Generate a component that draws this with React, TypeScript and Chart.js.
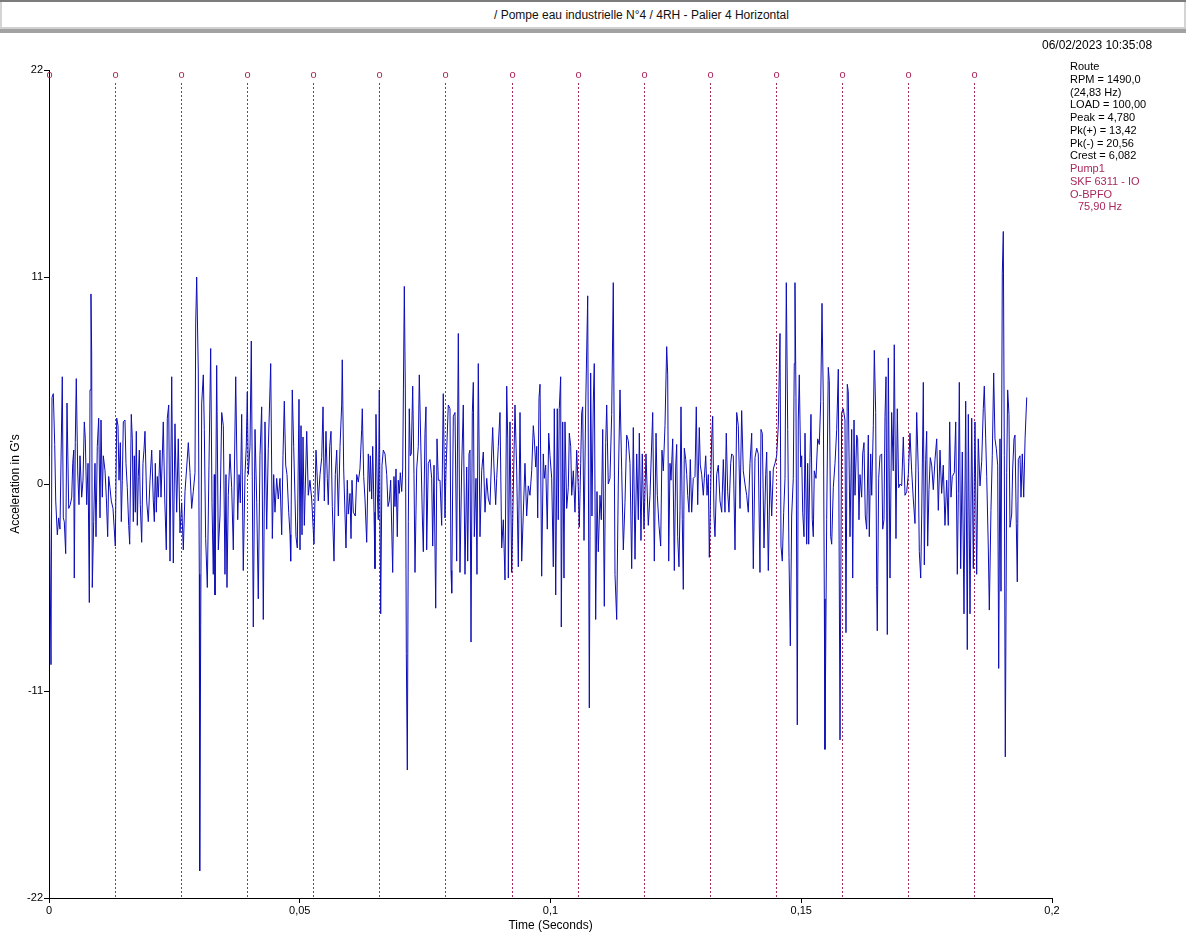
import React, { useEffect, useRef } from "react";
import Chart from "chart.js/auto";

// ---------- data ----------
const chartTitle = "/ Pompe eau industrielle N°4 / 4RH - Palier 4 Horizontal";
const timestamp = "06/02/2023 10:35:08";
const infoLines = [
  "Route",
  "RPM = 1490,0",
  "(24,83 Hz)",
  "LOAD = 100,00",
  "Peak = 4,780",
  "Pk(+) = 13,42",
  "Pk(-) = 20,56",
  "Crest = 6,082",
];
const faultLines = ["Pump1", "SKF 6311 - IO", "O-BPFO"];
const faultFrequencyLabel = "75,90 Hz";

const xTickValues = [0, 0.05, 0.1, 0.15, 0.2];
const yTickValues = [-22, -11, 0, 11, 22];
const xAxisTitle = "Time (Seconds)";
const yAxisTitle = "Acceleration in G's";

// BPFO (75,90 Hz) period markers, in seconds
const bpfoMarkerTimes = [
  0, 0.013175, 0.02635, 0.039526, 0.052701, 0.065876, 0.079051, 0.092227,
  0.105402, 0.118577, 0.131752, 0.144928, 0.158103, 0.171278, 0.184453,
];

// waveform: time (ms) and acceleration (G's)
const timeMs = [
  0.00, 0.40, 0.60, 0.86, 1.14, 1.34, 1.66, 1.93, 2.19, 2.65, 2.85, 3.05, 3.33, 3.59, 3.93, 4.25, 4.53, 4.73, 4.93, 5.04,
  5.24, 5.44, 5.72, 5.98, 6.18, 6.52, 6.78, 7.04, 7.24, 7.52, 7.78, 8.04, 8.18, 8.37, 8.51, 8.63, 8.91, 9.17, 9.37, 9.63,
  9.91, 10.17, 10.37, 10.63, 10.83, 11.17, 11.43, 11.70, 11.90, 12.16, 12.42, 12.76, 13.22, 13.50, 13.76, 13.96, 14.22, 14.42, 14.62, 14.82,
  15.15, 15.35, 15.61, 15.89, 16.09, 16.41, 16.61, 16.81, 17.01, 17.21, 17.41, 17.61, 17.81, 18.01, 18.21, 18.48, 18.74, 18.94, 19.14, 19.48,
  19.80, 20.14, 20.48, 20.80, 21.00, 21.20, 21.40, 21.60, 21.79, 22.13, 22.33, 22.53, 22.79, 23.07, 23.39, 23.59, 23.87,
  24.13, 24.47, 24.79, 25.12, 25.46, 25.78, 26.12, 26.46, 26.78, 27.12, 27.46, 27.78, 28.12, 28.45, 28.77, 29.11, 29.25, 29.45, 29.77, 29.97,
  30.05, 30.25, 30.45, 30.77, 30.97, 31.24, 31.57, 31.90, 32.24, 32.50, 32.76, 32.96, 33.10, 33.44, 33.76, 34.10, 34.44, 34.76, 35.09, 35.29,
  35.49, 35.75, 36.09, 36.43, 36.75, 37.23, 37.63, 37.89, 38.15, 38.42, 38.74, 39.08, 39.34, 39.54, 39.74, 40.08, 40.34, 40.74, 41.08, 41.42,
  41.73, 42.07, 42.41, 42.73, 43.07, 43.41, 43.73, 44.21, 44.53, 44.80, 45.06, 45.40, 45.72, 46.06, 46.40, 46.66, 46.92, 47.20, 47.46, 47.80,
  48.06, 48.19, 48.51, 48.79,
  49.25, 49.51, 49.85, 50.05, 50.25, 50.45, 50.65, 50.91, 51.39, 51.70, 52.04, 52.38, 52.84, 53.24, 53.70, 54.04, 54.38, 54.64, 54.90, 55.23,
  55.49, 55.69, 55.97, 56.23, 56.49, 56.83, 57.09, 57.37, 57.69, 58.03, 58.36, 58.48, 58.76, 59.22, 59.48, 59.68, 60.02, 60.22, 60.42, 60.68,
  61.08, 61.36, 61.67, 62.01, 62.35, 62.47, 62.75, 63.01, 63.35, 63.67, 63.95, 64.07, 64.35, 64.55, 64.81, 65.00, 65.20, 65.46, 65.66, 65.86,
  66.14, 66.40, 66.66, 67.00, 67.34, 67.60, 67.86, 68.13, 68.53, 68.79, 68.99, 69.19, 69.45, 69.65, 69.85, 70.05, 70.33, 70.53, 70.85, 71.05,
  71.25, 71.45, 71.65, 71.84, 72.04, 72.24, 72.52, 72.78, 72.98, 73.32, 73.64, 73.84,
  74.44, 74.64, 74.97, 75.17, 75.31, 75.63, 75.97, 76.31, 76.51, 76.77, 77.11, 77.37, 77.63, 77.97, 78.30, 78.62, 78.96, 79.16, 79.62, 79.96,
  80.16, 80.30, 80.62, 80.96, 81.29, 81.62, 81.95, 82.29, 82.61, 82.95, 83.29, 83.49, 83.75, 83.95, 84.15, 84.41, 84.61, 84.81, 85.14, 85.34,
  85.60, 85.94, 86.28, 86.60, 86.94, 87.28, 87.60, 87.94, 88.27, 88.47, 88.73, 89.07, 89.27, 89.59, 89.93, 90.27, 90.59, 90.93, 91.27, 91.47,
  91.59, 91.92, 92.26, 92.92, 93.26, 93.58, 93.92, 94.26, 94.91, 95.25, 95.57, 95.91, 96.25, 96.57, 96.77, 97.05, 97.25, 97.45, 97.71, 97.91,
  98.24, 98.56,
  98.76, 99.04, 99.36, 99.64, 99.90, 100.24, 100.56, 100.76, 101.04, 101.35, 101.55, 101.75, 102.03, 102.15, 102.43, 102.69, 102.89, 103.23, 103.55, 103.75,
  104.03, 104.23, 104.55, 104.88, 105.22, 105.54, 105.74, 106.02, 106.22, 106.42, 106.68, 107.02, 107.42, 107.74, 108.01, 108.27, 108.53, 108.73, 109.01, 109.27,
  109.53, 109.87, 110.13, 110.41, 110.73, 111.01, 111.21, 111.52, 111.86, 112.20, 112.52, 112.86, 113.20, 113.52, 113.86, 114.20, 114.52, 114.85, 115.19, 115.51,
  115.85, 116.19, 116.51, 116.85, 117.19, 117.51, 117.71, 118.04, 118.30, 118.64, 119.04, 119.50, 119.84, 120.38, 120.70, 121.04, 121.30, 121.63, 121.97, 122.23,
  122.49, 122.83, 123.17, 123.37, 123.57,
  123.83, 124.03, 124.37, 124.69, 124.96, 125.16, 125.36, 125.62, 125.82, 126.02, 126.28, 126.48, 126.68, 126.96, 127.16, 127.36, 127.62, 127.88, 128.15, 128.47,
  128.81, 129.07, 129.35, 129.67, 129.87, 130.15, 130.47, 130.67, 130.95, 131.21, 131.47, 131.67, 132.14, 132.34, 132.60, 132.80, 133.14, 133.46, 133.80, 134.14,
  134.46, 134.79, 135.05, 135.33, 135.59, 135.93, 136.13, 136.45, 136.79, 137.13, 137.45, 137.79, 138.12, 138.44, 138.78, 139.12, 139.44, 139.78, 140.12, 140.44,
  140.78, 141.12, 141.43, 141.77, 141.97, 142.23, 142.57, 142.91, 143.11, 143.43, 143.77, 144.11, 144.43, 144.76, 145.10, 145.42, 145.76, 145.96, 146.22, 146.50,
  146.76, 147.02, 147.30, 147.56, 147.82, 148.09, 148.41, 148.61,
  148.75, 148.95, 149.21, 149.41, 149.61, 149.89, 150.09, 150.29, 150.55, 150.75, 151.09, 151.28, 151.48, 151.74, 151.94, 152.20, 152.40, 152.60, 152.94, 153.28,
  153.60, 153.88, 154.14, 154.40, 154.60, 154.73, 155.07, 155.39, 155.59, 155.87, 156.07, 156.39, 156.73, 157.07, 157.39, 157.73, 158.06, 158.38, 158.72, 158.92,
  159.18, 159.38, 159.72, 160.06, 160.26, 160.52, 160.72, 161.06, 161.25, 161.51, 161.71, 162.05, 162.25, 162.51, 162.77, 163.05, 163.37, 163.57, 163.85, 164.05,
  164.37, 164.57, 164.84, 165.04, 165.16, 165.44, 165.70, 166.04, 166.24, 166.50, 166.70, 166.90, 167.16, 167.36, 167.70, 168.03, 168.35, 168.55, 168.89, 169.15,
  169.43, 169.69, 170.03, 170.35, 170.69, 171.03, 171.35, 171.68, 172.02, 172.34, 172.68, 173.02, 173.34, 173.54,
  173.82, 174.02, 174.22, 174.34, 174.54, 174.81, 175.01, 175.21, 175.47, 175.73, 176.01, 176.33, 176.67, 177.01, 177.33, 177.67, 178.00, 178.32, 178.66, 179.00,
  179.32, 179.60, 179.86, 180.12, 180.52, 180.80, 181.12, 181.32, 181.52, 181.79, 182.11, 182.45, 182.79, 183.11, 183.31, 183.65, 183.99, 184.31, 184.64, 184.98,
  185.30, 185.64, 185.98, 186.30, 186.50, 186.78, 186.98, 187.30, 187.50, 187.83, 188.09, 188.37, 188.63, 188.89, 189.17, 189.37, 189.63, 189.83, 190.09, 190.29,
  190.49, 190.69, 190.97, 191.16, 191.42, 191.62, 191.96, 192.16, 192.42, 192.62, 192.88, 193.08, 193.28, 193.62, 193.82, 194.08, 194.36, 194.63, 194.96,
];

const acceleration = [
  1.5, -9.6, 4.6, 4.8, 2.1, -0.9, -2.7, -1.8, -2.4, 5.7, -1.8, -2.0, -3.7, 4.3, -1.3, -1.1, -0.7, 1.1, 1.8, -5.0,
  2.2, 5.6, 0.7, -1.1, 1.5, -0.7, 0.2, 3.3, 2.4, -1.1, 1.1, -6.3, 5.0, 10.1, 6.9, -5.5, -2.0, 1.1, -2.8, 2.0,
  3.5, -1.8, 3.4, -0.7, 1.5, 0.7, -0.7, -2.8, 0.4, -0.2, -0.9, -1.3, -3.3, 3.5, 3.1, 0.2, 2.2, -2.0, 0.2, 3.3,
  3.4, 1.1, -0.2, -2.2, -3.2, 3.7, 2.4, -2.0, 1.5, -1.5, 2.8, -2.2, 0.4, 1.8, -1.1, -3.1, 1.1, 1.8, 2.8, -0.9,
  -2.0, 0.2, 1.8, -0.9, -2.0, 1.1, -1.5, 0.4, -0.7, 1.8, -0.7, 0.9, 3.3, -0.7, -3.5, 3.5, 4.2,
  -4.1, 5.7, -4.2, 3.2, -1.5, 2.4, -2.6, -1.0, -3.5, -0.4, 0.9, 2.2, 0.6, -1.3, -0.4, 0.6, 8.5, 11.0, 6.0, -4.8,
  -20.56, -7.5, 4.3, 5.8, 2.9, -2.9, -5.5, 1.0, 7.2, -1.0, -4.8, 0.5, -5.9, 6.3, -3.5, -1.7, 3.8, 3.1, -4.8, 0.5,
  -5.5, -0.6, 1.6, -0.2, -3.5, 5.7, -1.9, 0.5, -1.0, 3.7, -4.6, 0.5, 2.0, 4.9, 0.5, 2.0, 7.6, -7.6, 2.9, -1.0,
  -6.1, 1.5, 4.1, -7.2, 3.3, -2.4, 1.9, 6.4, -2.9, 0.5, -1.5, 0.3, -0.8, 0.3, -2.7, 1.5, 4.4, 1.0, 0.5, -1.5,
  -2.7, -4.1, 5.0, 2.0,
  -2.8, -3.4, 4.5, -3.5, 3.1, -2.7, 2.5, -2.2, 2.8, -0.6, 0.2, -0.8, -3.2, 1.8, -0.9, 0.5, 1.4, 4.1, -0.9, 2.8,
  0.3, -1.1, 2.0, 2.8, -1.2, -4.1, 0.5, 1.8, -1.7, 2.0, 4.2, 6.6, 0.8, -3.4, 0.2, -1.6, -0.5, -2.9, 0.2, -1.5,
  -1.7, 0.5, 0.1, 0.8, 2.9, 4.0, 0.4, -0.8, -3.1, 1.6, -0.4, 1.5, -0.8, 2.0, -1.5, -4.5, 3.7, -0.5, -1.9, 5.0,
  -6.9, 1.0, 1.8, 1.6, 0.5, -1.2, -0.9, 0.2, -4.7, 0.4, -1.2, 0.8, -2.8, 0.2, -0.5, 0.6, -0.4, 0.8, 10.5, 5.0,
  -9.0, -15.2, -2.0, 4.0, 1.5, 1.6, 5.2, 0.5, -4.7, 0.8, 2.0, 5.8,
  -1.7, -3.6, 2.7, 4.1, -3.5, 1.1, 1.3, 0.3, -3.3, 1.0, -6.6, 2.4, 0.2, 0.2, -2.2, 4.8, -1.8, 0.7, 4.2, 4.0,
  -4.6, -5.8, 3.6, 3.8, -4.1, 8.0, -4.7, 0.9, 4.2, -4.8, 0.9, -4.1, 1.6, 1.8, -8.4, 3.8, 5.4, -2.8, 0.3, -4.8,
  6.4, -2.8, 0.7, 1.7, -1.5, 0.3, -0.8, -1.1, 1.6, 3.0, 0.9, -1.1, 0.3, 2.0, 3.8, -3.4, -1.9, -5.1, 5.2, 2.4,
  -5.0, 3.3, -4.7, 4.2, 0.7, -4.4, 3.8, -4.1, 1.1, -1.7, -0.1, -0.6, 0.7, 3.1, 2.4, 0.9, 2.0, -1.8, 4.6, 5.3,
  -4.9, 1.6,
  0.3, 1.0, -2.4, 2.7, 1.5, 0.3, -4.4, 4.0, -5.9, 4.0, -1.9, 4.0, 5.7, -7.6, 3.3, -5.0, 3.3, -1.3, -0.2, 2.7,
  2.0, -0.6, 0.7, -1.5, 1.8, -0.2, -2.3, 1.1, 3.8, 4.1, -3.0, 4.2, 10.0, -11.9, 5.9, -1.7, 4.3, 6.4, -7.2, -0.4,
  -3.6, -0.6, -1.9, 2.9, -6.5, 2.2, 4.2, 0.0, 0.3, 3.7, 10.7, -4.8, -7.2, 0.0, 5.0, 0.7, -3.5, -1.0, 2.6, 2.3,
  1.1, -4.5, 3.0, -4.0, 1.6, -1.9, 2.7, -3.0, 1.6, -2.4, 1.6, -2.2, -0.6, 3.8, -4.1, 2.7, -0.6, -2.2, -3.3, 1.8,
  0.7, 3.1, 7.3, 5.8, -4.1,
  1.1, 0.2, 2.4, -4.6, 0.9, 2.1, -2.8, -4.4, -1.4, 4.1, -1.9, -5.6, 1.9, 1.3, 0.5, -0.6, -1.5, 1.3, -1.5, 0.3,
  0.4, 4.1, -1.1, 3.0, 1.0, 0.5, -0.6, 0.3, 1.5, -0.6, 0.5, -3.9, 2.4, 3.6, -1.7, -2.8, 0.5, 1.0, -0.9, -1.5,
  1.3, -1.5, 2.7, -0.4, -1.5, 1.1, 1.6, 1.5, -3.5, 3.8, 3.1, -1.3, 3.9, 0.7, 0.0, -0.6, -1.5, 1.1, 2.7, -4.5,
  1.4, 1.9, 1.6, -4.7, 2.9, 2.7, -3.4, 0.5, 1.7, -4.6, 0.7, -1.7, 0.8, 1.1, 1.5, 3.1, 8.0, -3.3, -4.1, -1.5,
  0.3, 10.7, 2.9, -3.9, -8.6, -1.7, 0.3, 6.4,
  10.7, 4.6, -12.8, 3.4, 5.8, 0.9, 1.5, -1.5, -2.8, 2.7, -3.2, 1.1, -3.2, 1.4, 3.7, -1.9, -2.8, 0.7, 0.3, 2.4,
  2.1, 4.4, 9.6, 4.4, -6.1, -14.1, -1.9, 6.2, 5.5, -2.8, -3.2, -0.2, 1.1, 2.9, 6.1, -13.6, 3.8, 4.0, 3.4, -7.9,
  5.3, 4.9, -2.8, 2.9, -5.0, 3.4, -0.6, 2.6, 2.4, -1.9, 0.5, -0.7, 1.6, 2.2, -1.7, -2.4, 2.6, -2.8, 1.6, -0.6,
  3.1, 7.1, 3.8, -5.4, -7.8, 0.3, 1.5, 1.6, -2.4, -1.9, 3.6, 5.7, -8.0, 6.7, -5.0, 3.8, 0.7, 7.4, -2.9, 4.0,
  -0.2, 0.0, -0.1, 2.5, -0.6, -0.4, 0.5, 2.7, 0.7, -0.8, -2.1, 3.8, 0.7, -3.6,
  -5.0, -1.6, 2.6, 5.4, -4.3, 1.3, 2.8, -3.3, -0.3, 1.4, 1.0, -0.3, 1.3, 2.4, -1.4, 1.8, -0.5, 1.0, -2.2, 0.2,
  -2.2, 3.3, -0.7, 0.4, 0.6, 3.3, -4.8, -0.5, 5.4, -4.5, 1.7, -6.9, 4.4, -8.8, 3.7, -6.9, 3.5, -4.5, 3.3, -4.8,
  2.4, -0.1, 1.2, 4.0, 5.2, 2.4, 0.4, -3.4, -6.7, -1.4, 1.5, 5.9, 2.4, 1.9, 1.0, -9.8, 2.4, -5.7, 11.2, 13.42,
  1.5, -14.5, 0.6, 5.0, 3.7, -2.3, -1.6, 0.8, 2.4, 2.6, -2.1, -5.2, 1.3, 1.5, -0.7, 1.6, -0.7, 2.4, 4.6,
];

// ---------- styles ----------
const FONT = '"Liberation Sans", Arial, sans-serif';
const WAVE_COLOR = "#0c0cb8";
const MARKER_COLOR = "#a8295c";

const markerPlugin = {
  id: "bpfoMarkers",
  beforeDatasetsDraw(chart: any) {
    const { ctx, chartArea, scales } = chart;
    const xs = scales.x;
    ctx.save();
    ctx.lineWidth = 1;
    ctx.font = `11px ${FONT}`;
    ctx.textAlign = "center";
    ctx.textBaseline = "middle";
    bpfoMarkerTimes.forEach((t, k) => {
      const px = Math.round(xs.getPixelForValue(t)) + 0.5;
      ctx.setLineDash([]);
      ctx.fillStyle = MARKER_COLOR;
      ctx.fillText("o", px, chartArea.top + 5);
      if (k > 0) {
        ctx.strokeStyle = MARKER_COLOR;
        ctx.setLineDash([2, 2]);
        ctx.beginPath();
        ctx.moveTo(px, chartArea.top + 13);
        ctx.lineTo(px, chartArea.bottom);
        ctx.stroke();
      }
    });
    ctx.restore();
  },
};

function fmtComma(v: number) {
  const r = Math.round(v * 1000) / 1000;
  return String(r).replace(".", ",");
}

export default function App() {
  const canvasRef = useRef<HTMLCanvasElement | null>(null);

  useEffect(() => {
    const canvas = canvasRef.current;
    if (!canvas) return;
    const n = Math.min(timeMs.length, acceleration.length);
    const points = [];
    for (let i = 0; i < n; i++) points.push({ x: timeMs[i] / 1000, y: acceleration[i] });
    const chart = new Chart(canvas, {
      type: "line",
      data: {
        datasets: [
          {
            data: points,
            borderColor: WAVE_COLOR,
            borderWidth: 1,
            pointRadius: 0,
            tension: 0,
            fill: false,
          },
        ],
      },
      options: {
        animation: false,
        responsive: false,
        devicePixelRatio: 1,
        events: [],
        layout: { padding: { top: 70, right: 134, bottom: 0, left: 0 } },
        plugins: {
          legend: { display: false },
          tooltip: { enabled: false },
          title: { display: false },
        },
        scales: {
          x: {
            type: "linear",
            min: 0,
            max: 0.2,
            afterFit: (s: any) => {
              s.height = 44;
            },
            afterBuildTicks: (s: any) => {
              s.ticks = xTickValues.map((v) => ({ value: v }));
            },
            ticks: {
              autoSkip: false,
              maxRotation: 0,
              padding: 1,
              color: "#000",
              font: { family: FONT, size: 11 },
              callback: (v: any) => fmtComma(Number(v)),
            },
            grid: {
              drawOnChartArea: false,
              drawTicks: true,
              tickLength: 5,
              color: "#000",
            },
            border: { display: true, color: "#000", width: 1 },
            title: {
              display: true,
              text: xAxisTitle,
              color: "#000",
              font: { family: FONT, size: 12 },
              padding: { top: 0, bottom: 9 },
            },
          },
          y: {
            type: "linear",
            min: -22,
            max: 22,
            afterFit: (s: any) => {
              s.width = 49;
            },
            afterBuildTicks: (s: any) => {
              s.ticks = yTickValues.map((v) => ({ value: v }));
            },
            ticks: {
              autoSkip: false,
              padding: 1,
              color: "#000",
              font: { family: FONT, size: 11 },
              callback: (v: any) => String(v),
            },
            grid: {
              drawOnChartArea: false,
              drawTicks: true,
              tickLength: 5,
              color: "#000",
            },
            border: { display: true, color: "#000", width: 1 },
            title: {
              display: true,
              text: yAxisTitle,
              color: "#000",
              font: { family: FONT, size: 12 },
              padding: { top: 8, bottom: 0 },
            },
          },
        },
      },
      plugins: [markerPlugin],
    });
    return () => chart.destroy();
  }, []);

  const textBase: React.CSSProperties = {
    position: "absolute",
    fontFamily: FONT,
    whiteSpace: "nowrap",
    lineHeight: "13px",
  };

  return (
    <div
      style={{
        position: "absolute",
        left: 0,
        top: 0,
        width: 1186,
        height: 942,
        background: "#fff",
        overflow: "hidden",
      }}
    >
      {/* header frame */}
      <div style={{ position: "absolute", left: 0, top: 0, width: 1186, height: 2, background: "#7c7c7c" }} />
      <div style={{ position: "absolute", left: 0, top: 2, width: 2, height: 25, background: "#d4d4d4" }} />
      <div style={{ position: "absolute", right: 0, top: 2, width: 2, height: 25, background: "#d4d4d4" }} />
      <div style={{ position: "absolute", left: 0, top: 27, width: 1186, height: 2, background: "#d0d0d0" }} />
      <div style={{ position: "absolute", left: 0, top: 29, width: 1186, height: 4, background: "#a2a2a2" }} />
      <div style={{ ...textBase, left: 494, top: 7, fontSize: 12, lineHeight: "16px", color: "#111" }}>{chartTitle}</div>

      <canvas
        ref={canvasRef}
        width={1186}
        height={942}
        style={{ position: "absolute", left: 0, top: 0, width: 1186, height: 942 }}
      />

      <div style={{ ...textBase, left: 1042, top: 37, fontSize: 12, lineHeight: "16px", color: "#000" }}>{timestamp}</div>
      {infoLines.map((s, i) => (
        <div key={"i" + i} style={{ ...textBase, left: 1070, top: 60 + i * 12.75, fontSize: 11, color: "#000" }}>
          {s}
        </div>
      ))}
      {faultLines.map((s, i) => (
        <div
          key={"f" + i}
          style={{ ...textBase, left: 1070, top: 60 + (infoLines.length + i) * 12.75, fontSize: 11, color: MARKER_COLOR }}
        >
          {s}
        </div>
      ))}
      <div
        style={{
          ...textBase,
          left: 1078,
          top: 60 + (infoLines.length + faultLines.length) * 12.75,
          fontSize: 11,
          color: MARKER_COLOR,
        }}
      >
        {faultFrequencyLabel}
      </div>
    </div>
  );
}
